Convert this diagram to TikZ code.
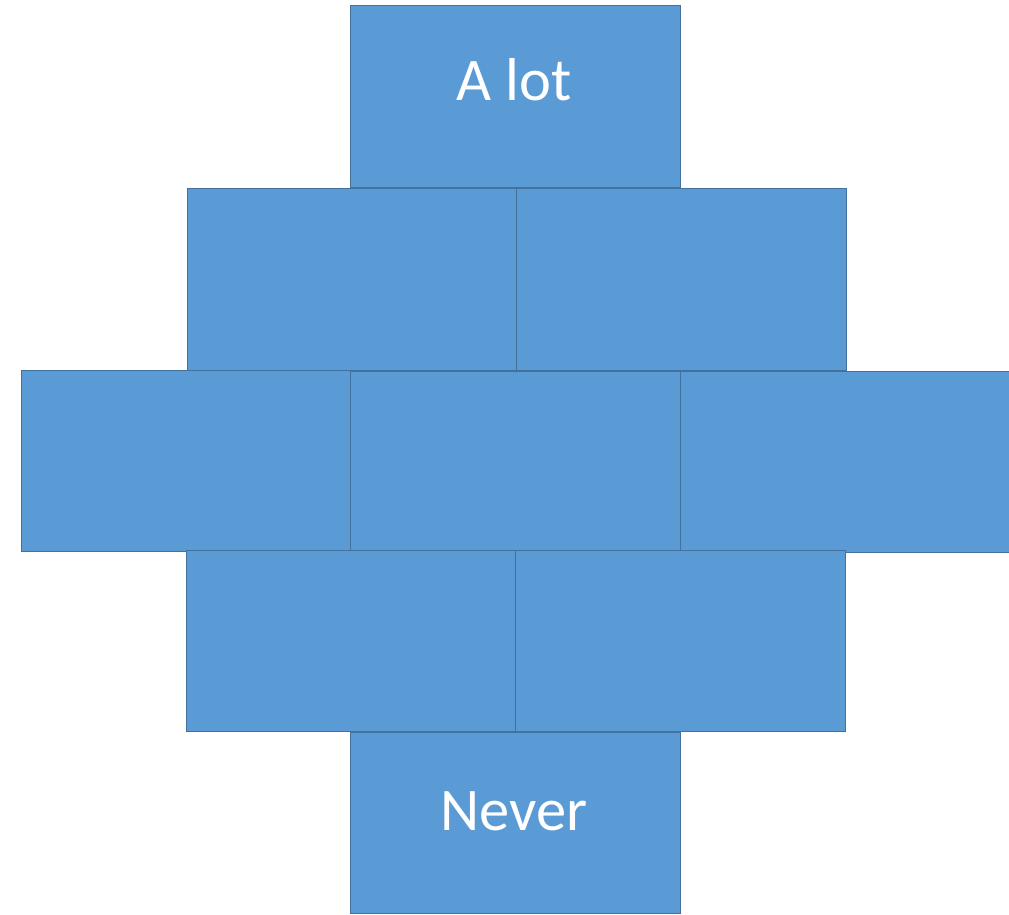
\documentclass[tikz,border=0pt]{standalone}
\usepackage{fontspec}
\setmainfont{Carlito}
\definecolor{brickfill}{HTML}{5B9BD5}
\definecolor{brickline}{HTML}{41719C}
\tikzset{
  brick/.style={fill=brickfill, draw=brickline, line width=1pt},
  label/.style={text=white, font=\fontsize{60.5}{62}\selectfont, anchor=base}
}
\begin{document}
\begin{tikzpicture}[x=1pt,y=-1pt]
\useasboundingbox (0,0) rectangle (1009,914);
% top brick
\draw[brick] (350,5) rectangle (680,187);
% second row
\draw[brick] (187,188) rectangle (516,370);
\draw[brick] (516,188) rectangle (846,370);
% middle row
\draw[brick] (21,370) rectangle (350,551);
\draw[brick] (350,371) rectangle (680,550);
\draw[brick] (680,371) rectangle (1009,552);
% fourth row
\draw[brick] (186,550) rectangle (515,731);
\draw[brick] (515,550) rectangle (845,731);
% bottom brick
\draw[brick] (350,732) rectangle (680,913);
% labels
\node[label] (top) at (514,100) {A lot};
\node[label] (bottom) at (514,830) {Never};
\end{tikzpicture}
\end{document}
